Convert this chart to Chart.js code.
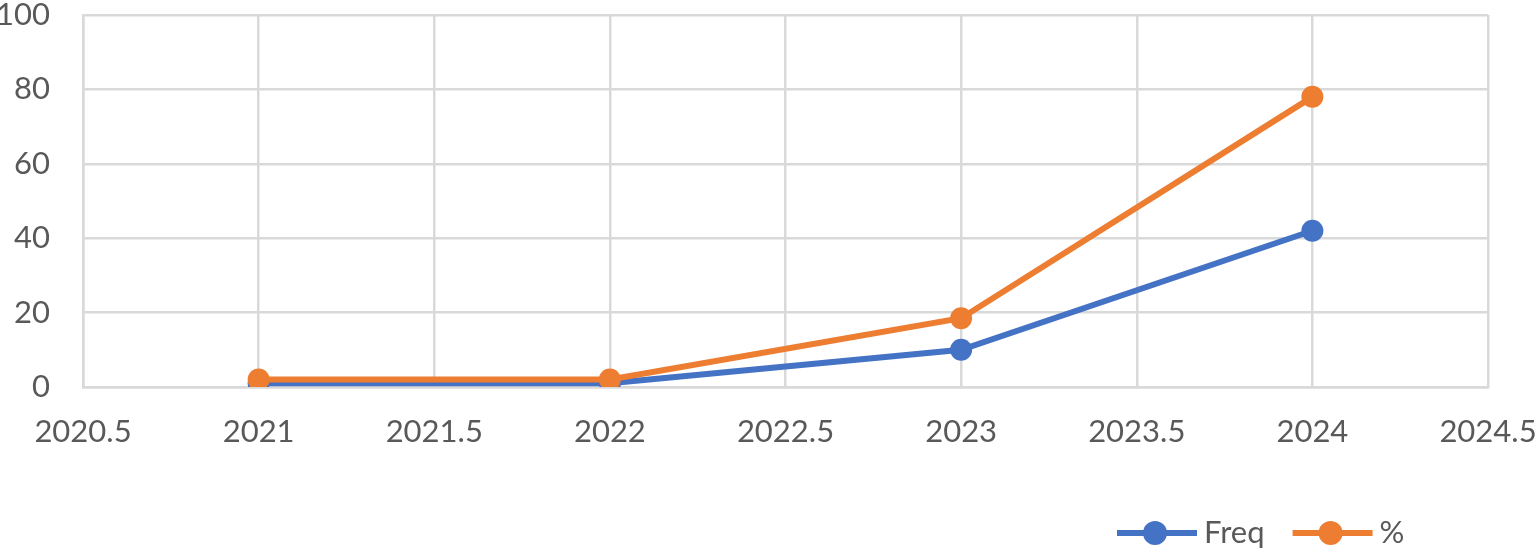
<!DOCTYPE html>
<html lang="en">
<head>
<meta charset="UTF-8">
<title>Freq and %</title>
<script src="https://cdnjs.cloudflare.com/ajax/libs/Chart.js/4.4.1/chart.umd.min.js"></script>
<style>
  html, body { margin: 0; padding: 0; background: #fff; }
  #wrap { width: 1537px; height: 550px; }
</style>
</head>
<body>
<div id="wrap"><canvas id="myChart" width="1537" height="550"></canvas></div>
<script>
// data
const years = [2021, 2022, 2023, 2024];
const freqValues = [1, 1, 10, 42];
const pctValues = [2, 2, 18.5, 78];
const seriesNames = ['Freq', '%'];

const blue = '#4472C4';
const orange = '#ED7D31';
const gridColor = '#D9D9D9';
const textColor = '#595959';
const fontFamily = 'Lato, "Open Sans", sans-serif';

function toPoints(xs, ys) {
  return xs.map((x, i) => ({x: x, y: ys[i]}));
}

// legend drawn as line + marker like the office chart
const lineLegend = {
  id: 'lineLegend',
  afterDraw(chart) {
    const ctx = chart.ctx;
    const y = 533;
    let x = 1117;
    ctx.save();
    ctx.font = '31px ' + fontFamily;
    ctx.textBaseline = 'middle';
    chart.data.datasets.forEach(ds => {
      ctx.strokeStyle = ds.borderColor;
      ctx.lineWidth = 6;
      ctx.beginPath();
      ctx.moveTo(x, y);
      ctx.lineTo(x + 80, y);
      ctx.stroke();
      ctx.fillStyle = ds.borderColor;
      ctx.beginPath();
      ctx.arc(x + 38, y, 12, 0, Math.PI * 2);
      ctx.fill();
      ctx.fillStyle = textColor;
      ctx.fillText(ds.label, x + 87, y);
      x += 87 + ctx.measureText(ds.label).width + 28;
    });
    ctx.restore();
  }
};

const ctx = document.getElementById('myChart').getContext('2d');
new Chart(ctx, {
  type: 'scatter',
  data: {
    datasets: [
      {
        label: seriesNames[0],
        data: toPoints(years, freqValues),
        showLine: true,
        borderColor: blue,
        backgroundColor: blue,
        borderWidth: 6,
        pointRadius: 11,
        pointHoverRadius: 11,
        pointBorderWidth: 0,
        order: 1
      },
      {
        label: seriesNames[1],
        data: toPoints(years, pctValues),
        showLine: true,
        borderColor: orange,
        backgroundColor: orange,
        borderWidth: 6,
        pointRadius: 11,
        pointHoverRadius: 11,
        pointBorderWidth: 0,
        order: 0
      }
    ]
  },
  plugins: [lineLegend],
  options: {
    responsive: false,
    animation: false,
    layout: {padding: {left: 0, right: 49, top: 15, bottom: 0}},
    scales: {
      x: {
        type: 'linear',
        min: 2020.5,
        max: 2024.5,
        grid: {color: gridColor, lineWidth: 2.5, drawTicks: false},
        border: {color: gridColor, width: 2.5},
        ticks: {
          stepSize: 0.5,
          maxRotation: 0,
          color: textColor,
          padding: 29,
          font: {family: fontFamily, size: 31, lineHeight: 1},
          callback: value => String(value)
        },
        afterFit: scale => {
          scale.height = 163;
          scale.paddingLeft = 0;
          scale.paddingRight = 0;
        }
      },
      y: {
        min: 0,
        max: 100,
        grid: {color: gridColor, lineWidth: 2.5, drawTicks: false},
        border: {color: gridColor, width: 2.5},
        ticks: {
          stepSize: 20,
          color: textColor,
          padding: 33,
          font: {family: fontFamily, size: 31, lineHeight: 1}
        },
        afterFit: scale => {
          scale.width = 83;
          scale.paddingTop = 0;
          scale.paddingBottom = 0;
        }
      }
    },
    plugins: {
      legend: {display: false},
      tooltip: {enabled: false}
    }
  }
});
</script>
</body>
</html>
